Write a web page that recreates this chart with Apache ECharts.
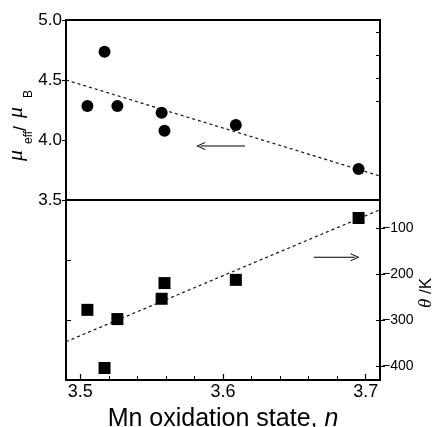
<!DOCTYPE html>
<html>
<head>
<meta charset="utf-8">
<script src="https://cdn.jsdelivr.net/npm/echarts@6/dist/echarts.min.js"></script>
<style>html,body{margin:0;padding:0;background:#fff}#c{width:439px;height:427px}</style>
</head>
<body>
<div id="c"></div>
<script>
// ---- data ----
var nValues = [3.505, 3.517, 3.526, 3.557, 3.559, 3.609, 3.695];
var muEff = [4.283, 4.736, 4.283, 4.228, 4.078, 4.125, 3.758];
var theta = [-277, -403, -297, -253, -219, -212, -78];
var muFitX = [3.49, 3.71];
var muFitY = [4.50, 3.70];
var thetaFitX = [3.49, 3.71];
var thetaFitY = [-346, -60];
var xTicks = [3.5, 3.6, 3.7];
var xMinorTicks = [3.52, 3.54, 3.56, 3.58, 3.62, 3.64, 3.66, 3.68];
var muTicks = [3.5, 4.0, 4.5, 5.0];
var thetaTicks = [-400, -300, -200, -100];
var thetaTicksExt = [0, 100, 200, 300];
var muTicksExt = [2.5, 3.0];
var arrowMuX = [3.6154, 3.5843];
var arrowMuY = 3.95;
var arrowThetaX = [3.6636, 3.6925];
var arrowThetaY = -163;

var xMin = 3.49, xMax = 3.71;
var muMin = 3.5, muMax = 5.0;
var thMin = -429, thMax = -39;

var SANS = "'Liberation Sans', Arial, Helvetica, sans-serif";
var SERIF = "'Liberation Serif', 'Times New Roman', serif";
var arrowHead = 'path://M5,0 L10,10 L8.7,10 L5,2.4 L1.3,10 L0,10 Z';

function pairs(xs, ys) { return xs.map(function (x, i) { return [x, ys[i]]; }); }

function arrowSeries(xi, yi, xs, y, rot) {
  return {
    type: 'line', xAxisIndex: xi, yAxisIndex: yi, silent: true, showSymbol: true, showAllSymbol: true,
    lineStyle: { color: '#000', width: 1.2 }, itemStyle: { color: '#000', opacity: 1 },
    data: [
      { value: [xs[0], y], symbol: 'none' },
      { value: [xs[1], y], symbol: arrowHead, symbolSize: [8, 9], symbolRotate: rot }
    ]
  };
}

var chart = echarts.init(document.getElementById('c'), null, { renderer: 'canvas' });
var gridTop = { left: 66, top: 20, width: 314, height: 180, outerBoundsMode: 'none', containLabel: false, show: true, borderColor: '#000', borderWidth: 2, backgroundColor: 'transparent' };
var gridBot = { left: 66, top: 200, width: 314, height: 180, outerBoundsMode: 'none', containLabel: false, show: true, borderColor: '#000', borderWidth: 2, backgroundColor: 'transparent' };

function hiddenX(gi) {
  return { type: 'value', gridIndex: gi, min: xMin, max: xMax, axisLine: { show: false }, axisTick: { show: false }, axisLabel: { show: false }, splitLine: { show: false } };
}

var option = {
  animation: false,
  grid: [gridTop, gridBot],
  xAxis: [
    hiddenX(0),
    {
      type: 'value', gridIndex: 1, min: xMin, max: xMax, position: 'bottom',
      axisLine: { show: false },
      axisTick: { show: true, inside: true, length: 6, customValues: xTicks, lineStyle: { color: '#000', width: 1.2 } },
      axisLabel: { show: true, customValues: xTicks, formatter: function (v) { return v.toFixed(1); }, fontFamily: SANS, fontSize: 18, color: '#000', margin: 3 },
      splitLine: { show: false },
      name: 'Mn oxidation state, {it|n}', nameLocation: 'middle', nameGap: 27,
      nameTextStyle: { fontFamily: SANS, fontSize: 25, color: '#000', rich: { it: { fontFamily: SANS, fontSize: 25, fontStyle: 'italic', color: '#000' } } }
    },
    {
      type: 'value', gridIndex: 1, min: xMin, max: xMax, position: 'bottom',
      axisLine: { show: false },
      axisTick: { show: true, inside: true, length: 4, customValues: xMinorTicks, lineStyle: { color: '#000', width: 1 } },
      axisLabel: { show: false }, splitLine: { show: false }
    }
  ],
  yAxis: [
    {
      type: 'value', gridIndex: 0, position: 'left', min: muMin, max: muMax, interval: 0.5,
      axisLine: { show: false },
      axisTick: { show: true, inside: false, length: 4, lineStyle: { color: '#000' } },
      axisLabel: { show: true, customValues: muTicks, formatter: function (v) { return v.toFixed(1); }, fontFamily: SANS, fontSize: 17, color: '#000', margin: 4 },
      splitLine: { show: false }
    },
    {
      type: 'value', gridIndex: 0, position: 'right', min: thMin, max: thMin + (thMax - thMin) * 2,
      axisLine: { show: false },
      axisTick: { show: true, inside: true, length: 4, customValues: thetaTicksExt, lineStyle: { color: '#000' } },
      axisLabel: { show: false }, splitLine: { show: false }
    },
    {
      type: 'value', gridIndex: 1, position: 'right', min: thMin, max: thMax,
      axisLine: { show: false },
      axisTick: { show: true, inside: false, length: 5, customValues: thetaTicks, lineStyle: { color: '#000' } },
      axisLabel: { show: true, customValues: thetaTicks, formatter: function (v) { return String(v).replace('-', '\u2212'); }, fontFamily: SANS, fontSize: 14, color: '#000', margin: 2 },
      splitLine: { show: false }
    },
    {
      type: 'value', gridIndex: 1, position: 'right', min: thMin, max: thMax,
      axisLine: { show: false },
      axisTick: { show: true, inside: true, length: 4, customValues: thetaTicks, lineStyle: { color: '#000' } },
      axisLabel: { show: false }, splitLine: { show: false }
    },
    {
      type: 'value', gridIndex: 1, position: 'left', min: muMin - (muMax - muMin), max: muMin,
      axisLine: { show: false },
      axisTick: { show: true, inside: true, length: 5, customValues: muTicksExt, lineStyle: { color: '#000' } },
      axisLabel: { show: false }, splitLine: { show: false }
    }
  ],
  series: [
    {
      type: 'line', xAxisIndex: 0, yAxisIndex: 0, data: pairs(muFitX, muFitY),
      symbol: 'none', silent: true,
      lineStyle: { color: '#111', width: 1.2, type: [3, 3] }
    },
    {
      type: 'scatter', xAxisIndex: 0, yAxisIndex: 0, data: pairs(nValues, muEff),
      symbol: 'circle', symbolSize: 12, itemStyle: { color: '#000', opacity: 1 }, silent: true
    },
    {
      type: 'line', xAxisIndex: 1, yAxisIndex: 2, data: pairs(thetaFitX, thetaFitY),
      symbol: 'none', silent: true,
      lineStyle: { color: '#111', width: 1.2, type: [3, 3] }
    },
    {
      type: 'scatter', xAxisIndex: 1, yAxisIndex: 2, data: pairs(nValues, theta),
      symbol: 'rect', symbolSize: 12, itemStyle: { color: '#000', opacity: 1 }, silent: true
    },
    arrowSeries(0, 0, arrowMuX, arrowMuY, 90),
    arrowSeries(1, 2, arrowThetaX, arrowThetaY, -90)
  ],
  graphic: [
    {
      type: 'group', x: 24, y: 161, rotation: Math.PI / 2, silent: true,
      children: [
        { type: 'text', x: 0, y: -7.5, style: { text: '\u03bc', font: 'italic 22px ' + SERIF, fill: '#000', verticalAlign: 'middle', align: 'left' } },
        { type: 'text', x: 17, y: 4.2, style: { text: 'eff', font: '12px ' + SANS, fill: '#000', verticalAlign: 'middle', align: 'left' } },
        { type: 'text', x: 30, y: -3, style: { text: '/', font: '18px ' + SANS, fill: '#000', verticalAlign: 'middle', align: 'left' } },
        { type: 'text', x: 43, y: -7.5, style: { text: '\u03bc', font: 'italic 22px ' + SERIF, fill: '#000', verticalAlign: 'middle', align: 'left' } },
        { type: 'text', x: 63, y: 4.2, style: { text: 'B', font: '12px ' + SANS, fill: '#000', verticalAlign: 'middle', align: 'left' } }
      ]
    },
    {
      type: 'group', x: 432, y: 308, rotation: Math.PI / 2, silent: true,
      children: [
        { type: 'text', x: 0, y: -6.3, style: { text: '\u03b8', font: 'italic 19px ' + SERIF, fill: '#000', verticalAlign: 'middle', align: 'left' } },
        { type: 'text', x: 14, y: -5.6, style: { text: '/K', font: '17px ' + SANS, fill: '#000', verticalAlign: 'middle', align: 'left' } }
      ]
    }
  ]
};
chart.setOption(option);
</script>
</body>
</html>
